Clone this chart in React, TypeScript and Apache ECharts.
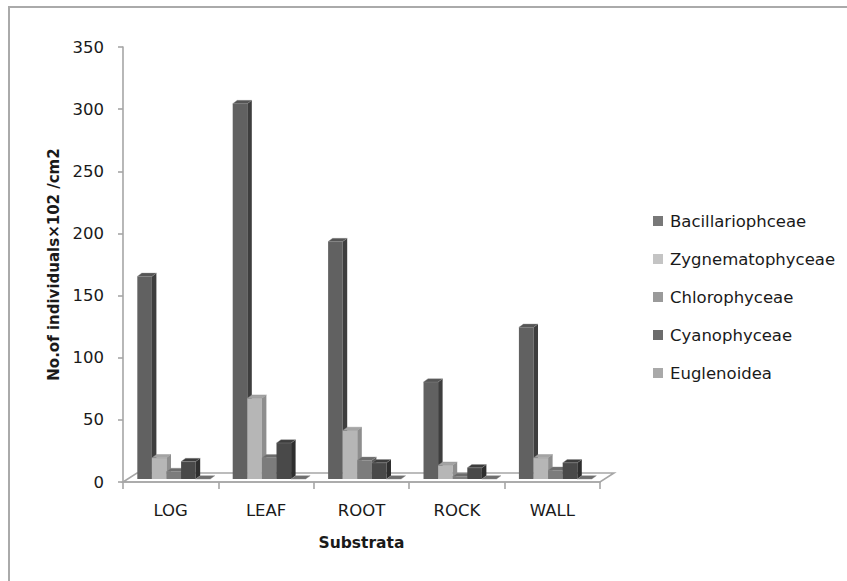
import React, { useEffect, useRef } from "react";
import * as echarts from "echarts";

// Substrata along the category axis
const substrata = ["LOG", "LEAF", "ROOT", "ROCK", "WALL"];

// Algal classes (one series each)
const taxa = ["Bacillariophceae", "Zygnematophyceae", "Chlorophyceae", "Cyanophyceae", "Euglenoidea"];

// No. of individuals ×10² per cm², per substratum
const bacillariophceae = [163, 302, 191, 78, 122];
const zygnematophyceae = [17, 65, 39, 11, 17];
const chlorophyceae = [6, 17, 15, 2, 7];
const cyanophyceae = [14, 29, 13, 9, 13];
const euglenoidea = [0, 0, 0, 0, 0];

// Value axis range
const yMin = 0;
const yMax = 350;
const yStep = 50;

const seriesValues = [bacillariophceae, zygnematophyceae, chlorophyceae, cyanophyceae, euglenoidea];

// Shading for the three visible faces of each column, plus the legend swatch
const shades = [
  { front: "#616161", side: "#3e3e3e", top: "#555555", key: "#787878" },
  { front: "#b6b6b6", side: "#8e8e8e", top: "#a4a4a4", key: "#c4c4c4" },
  { front: "#7c7c7c", side: "#5a5a5a", top: "#6c6c6c", key: "#9a9a9a" },
  { front: "#494949", side: "#2e2e2e", top: "#3d3d3d", key: "#6c6c6c" },
  { front: "#8a8a8a", side: "#6a6a6a", top: "#6e6e6e", key: "#a9a9a9" },
];

// Oblique projection of the columns and the floor
const DEPTH_X = 4.5;
const DEPTH_Y = 3.3;
const ROW_X = 3.1;
const ROW_Y = 3;
const FLOOR_X = 14;
const FLOOR_Y = 9;
const BAR_FRACTION = 0.153;

const FONT = "'DejaVu Sans', 'Noto Sans', sans-serif";
const TEXT = "#1a1a1a";
const LINE = "#a6a6a6";

function columnRenderer(s: number) {
  return (params: any, api: any) => {
    const c = api.value(0);
    const v = api.value(1);
    const band = api.size([1, 0])[0];
    const barW = band * BAR_FRACTION;
    const groupW = barW * taxa.length;
    const p0 = api.coord([c, 0]);
    const pv = api.coord([c, v]);
    const x0 = p0[0] - groupW / 2 + s * barW + ROW_X;
    const x1 = x0 + barW;
    const base = p0[1] - ROW_Y;
    const top = pv[1] - ROW_Y;
    const sh = shades[s];
    const children: any[] = [];
    if (base - top > 0.2) {
      children.push({
        type: "rect",
        shape: { x: x0, y: top, width: barW, height: base - top },
        style: { fill: sh.front },
      });
      children.push({
        type: "polygon",
        shape: {
          points: [
            [x1, top],
            [x1 + DEPTH_X, top - DEPTH_Y],
            [x1 + DEPTH_X, base - DEPTH_Y],
            [x1, base],
          ],
        },
        style: { fill: sh.side },
      });
    }
    children.push({
      type: "polygon",
      shape: {
        points: [
          [x0, top],
          [x0 + DEPTH_X, top - DEPTH_Y],
          [x1 + DEPTH_X, top - DEPTH_Y],
          [x1, top],
        ],
      },
      style: { fill: sh.top, stroke: "#8c8c8c", lineWidth: 0.4 },
    });
    return { type: "group", children };
  };
}

export default function App() {
  const ref = useRef<HTMLDivElement>(null);

  useEffect(() => {
    if (!ref.current) return;
    const chart = echarts.init(ref.current, undefined, { renderer: "svg" });

    const floorSeries = {
      type: "custom",
      name: "floor",
      silent: true,
      data: [[0, 0]],
      renderItem: (params: any) => {
        const cs = params.coordSys;
        const yb = cs.y + cs.height;
        return {
          type: "polygon",
          shape: {
            points: [
              [cs.x, yb],
              [cs.x + cs.width, yb],
              [cs.x + cs.width + FLOOR_X, yb - FLOOR_Y],
              [cs.x + FLOOR_X, yb - FLOOR_Y],
            ],
          },
          style: { fill: "none", stroke: LINE, lineWidth: 1.6 },
        };
      },
    };

    const columnSeries = taxa.map((name, s) => ({
      type: "custom",
      name,
      itemStyle: { color: shades[s].key },
      data: seriesValues[s].map((v, i) => [i, v]),
      renderItem: columnRenderer(s),
    }));

    chart.setOption({
      animation: false,
      backgroundColor: "#ffffff",
      graphic: [
        {
          type: "rect",
          shape: { x: 9, y: 7, width: 900, height: 700 },
          style: { fill: "none", stroke: "#aaaaaa", lineWidth: 2 },
          silent: true,
        },
      ],
      grid: { left: 123, right: 247, top: 47, bottom: 99, containLabel: false },
      legend: {
        orient: "vertical",
        left: 653,
        top: 211,
        padding: 0,
        itemWidth: 10,
        itemHeight: 10,
        itemGap: 18,
        icon: "rect",
        data: taxa,
        selectedMode: false,
        textStyle: {
          fontFamily: FONT,
          fontSize: 16.5,
          color: TEXT,
          lineHeight: 20,
          padding: [0, 0, 0, 2],
        },
      },
      xAxis: {
        type: "category",
        data: substrata,
        name: "Substrata",
        nameLocation: "middle",
        nameGap: 53,
        nameTextStyle: { fontFamily: FONT, fontSize: 15.5, fontWeight: "bold", color: TEXT },
        axisLine: { show: true, lineStyle: { color: LINE, width: 1.6 } },
        axisTick: { show: true, length: 7, interval: 0, lineStyle: { color: LINE, width: 1.6 } },
        axisLabel: { fontFamily: FONT, fontSize: 16.5, color: TEXT, margin: 20 },
        splitLine: { show: false },
      },
      yAxis: {
        type: "value",
        min: yMin,
        max: yMax,
        interval: yStep,
        name: "No.of individuals×102 /cm2",
        nameLocation: "middle",
        nameRotate: 90,
        nameGap: 62,
        nameTextStyle: { fontFamily: FONT, fontSize: 15, fontWeight: "bold", color: TEXT },
        axisLine: { show: true, lineStyle: { color: LINE, width: 1.6 } },
        axisTick: { show: true, length: 5, lineStyle: { color: LINE, width: 1.6 } },
        axisLabel: { fontFamily: FONT, fontSize: 16.5, color: TEXT, margin: 19 },
        splitLine: { show: false },
      },
      series: [floorSeries, ...columnSeries],
    });

    return () => chart.dispose();
  }, []);

  return (
    <div
      ref={ref}
      style={{ position: "fixed", left: 0, top: 0, width: 847, height: 581 }}
    />
  );
}
